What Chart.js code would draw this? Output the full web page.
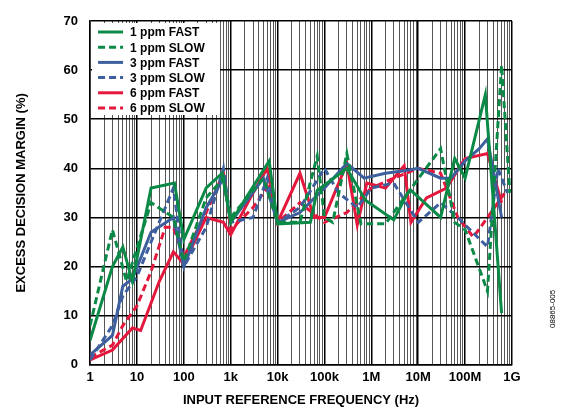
<!DOCTYPE html>
<html>
<head>
<script src="https://cdn.jsdelivr.net/npm/chart.js@4"></script>
<style>
  body { margin: 0; background: #fff; }
  #wrap { width: 571px; height: 410px; }
</style>
</head>
<body>
<div id="wrap"><canvas id="c" width="571" height="410"></canvas></div>
<script>
// Frequencies in Hz, values in % excess decision margin
const fast1Freq = [1, 3, 5, 8, 20, 63, 100, 300, 660, 1e3, 6.6e3, 1e4, 5e4, 7e4, 3e5, 7.5e5, 3e6, 6e6, 7e6, 3e7, 6e7, 1e8, 2.7e8, 6e8];
const fast1Vals = [5, 20, 24, 17, 36, 37, 25.5, 36, 39, 29, 41.5, 28.7, 29, 35.5, 40, 33.5, 29.5, 35, 35.5, 30, 42, 38, 55, 10.5];
const slow1Freq = [1, 3, 6, 20, 60, 100, 300, 700, 1e3, 5e3, 1e4, 3e4, 7e4, 1e5, 1.5e5, 3e5, 6e5, 2e6, 5e6, 3e7, 6e7, 1e8, 3e8, 6e8, 9e8];
const slow1Vals = [8, 27.5, 17, 33, 30, 21, 34, 38, 30, 38, 29, 29, 42.5, 30, 29, 43, 28.7, 28.7, 34, 44, 29, 27.5, 15, 61, 35];
const fast3Freq = [1, 3, 5, 8, 20, 60, 100, 300, 700, 1e3, 5e3, 1e4, 3e4, 1e5, 3e5, 7e5, 2e6, 5e6, 1e7, 3e7, 5e7, 1e8, 2e8, 3e8, 6e8];
const fast3Vals = [2, 6, 16, 17.5, 27, 30, 20, 32, 38, 29, 38, 29, 31, 36, 41, 38, 39, 39.5, 40, 38, 38, 41.5, 44, 46, 30];
const slow3Freq = [1, 3, 5, 10, 20, 60, 100, 300, 700, 1e3, 3e3, 6e3, 1e4, 3e4, 1e5, 2e5, 5e5, 1e6, 3e6, 1e7, 3e7, 7e7, 1e8, 3e8, 5e8, 8e8];
const slow3Vals = [1, 8, 14, 18, 25, 36, 20, 28, 40, 29, 30, 38, 29, 32, 40, 35, 32, 36, 37, 29, 33, 30, 28.5, 24, 40, 35];
const fast6Freq = [1, 3, 8, 12, 30, 60, 100, 300, 700, 1e3, 3e3, 6e3, 1e4, 3e4, 6e4, 1e5, 3e5, 5e5, 8e5, 2e6, 5e6, 7e6, 1.5e7, 4e7, 1e8, 3e8, 6e8];
const fast6Vals = [1, 3, 7.5, 7, 17, 23, 20.5, 30, 29, 26.5, 35, 40, 29, 39, 30, 30, 41, 28.5, 37, 36, 40.5, 29, 34, 36, 42, 43, 33];
const slow6Freq = [1, 3, 5, 10, 20, 40, 60, 100, 300, 700, 1e3, 3e3, 7e3, 1e4, 3e4, 1e5, 3e5, 1e6, 3e6, 1e7, 3e7, 7e7, 1.5e8, 3e8, 7e8];
const slow6Vals = [1.5, 4, 8, 12, 19, 28, 28, 22, 31, 39, 27.5, 32, 37, 29, 33, 29, 31, 36, 38, 40, 39, 30, 26, 30, 35];

const xTickLabels = ['1', '10', '100', '1k', '10k', '100k', '1M', '10M', '100M', '1G'];
const seriesLabels = ['1 ppm FAST', '1 ppm SLOW', '3 ppm FAST', '3 ppm SLOW', '6 ppm FAST', '6 ppm SLOW'];

const GREEN = '#0a8a46', BLUE = '#3e5f9e', RED = '#e4173c';

function pts(f, v) { return f.map((x, i) => ({ x: x, y: v[i] })); }
function ds(i, f, v, color, dashed) {
  return {
    label: seriesLabels[i], data: pts(f, v), borderColor: color, backgroundColor: color,
    borderWidth: 3, borderDash: dashed ? [7, 4] : [], pointRadius: 0, tension: 0, fill: false
  };
}

const legendBox = {
  id: 'legendBox',
  afterDraw(chart) {
    const ctx = chart.ctx, a = chart.chartArea;
    ctx.save();
    ctx.fillStyle = '#fff';
    ctx.fillRect(a.left + 2, a.top + 2, 128, 92);
    ctx.font = 'bold 12px Arial, "Liberation Sans", sans-serif';
    ctx.textBaseline = 'middle';
    chart.data.datasets.forEach((d, i) => {
      const y = a.top + 11 + i * 15.2;
      ctx.strokeStyle = d.borderColor;
      ctx.lineWidth = 3;
      ctx.setLineDash(d.borderDash);
      ctx.beginPath(); ctx.moveTo(a.left + 8, y); ctx.lineTo(a.left + 33, y); ctx.stroke();
      ctx.setLineDash([]);
      ctx.fillStyle = '#000';
      ctx.fillText(d.label, a.left + 40, y + 1);
    });
    ctx.translate(553, 328);
    ctx.rotate(-Math.PI / 2);
    ctx.font = '8px Arial, "Liberation Sans", sans-serif';
    ctx.fillText('08865-005', 0, 0);
    ctx.restore();
  }
};

new Chart(document.getElementById('c'), {
  type: 'line',
  data: {
    datasets: [
      ds(0, fast1Freq, fast1Vals, GREEN, false),
      ds(1, slow1Freq, slow1Vals, GREEN, true),
      ds(2, fast3Freq, fast3Vals, BLUE, false),
      ds(3, slow3Freq, slow3Vals, BLUE, true),
      ds(4, fast6Freq, fast6Vals, RED, false),
      ds(5, slow6Freq, slow6Vals, RED, true)
    ]
  },
  options: {
    responsive: false, animation: false,
    layout: { padding: { left: 14, right: 59, top: 21, bottom: 2 } },
    plugins: { legend: { display: false }, tooltip: { enabled: false } },
    scales: {
      x: {
        type: 'logarithmic', min: 1, max: 1e9,
        border: { color: '#000', width: 1.5 },
        grid: {
          drawTicks: false,
          color: (c) => Math.abs(Math.log10(c.tick.value) % 1) < 1e-9 ? '#000' : '#444',
          lineWidth: (c) => Math.abs(Math.log10(c.tick.value) % 1) < 1e-9 ? 1.5 : 0.9
        },
        afterBuildTicks(axis) {
          const t = [];
          for (let e = 0; e < 9; e++) for (let m = 1; m < 10; m++) t.push({ value: m * Math.pow(10, e) });
          t.push({ value: 1e9 });
          axis.ticks = t;
        },
        ticks: {
          autoSkip: false, maxRotation: 0, color: '#000', padding: 5,
          font: { family: 'Arial, "Liberation Sans", sans-serif', size: 13, weight: 'bold' },
          callback(v) {
            const e = Math.log10(v);
            return Math.abs(e - Math.round(e)) < 1e-9 ? xTickLabels[Math.round(e)] : '';
          }
        },
        title: {
          display: true, text: 'INPUT REFERENCE FREQUENCY (Hz)', color: '#000', padding: { top: 2, bottom: 0 },
          font: { family: 'Arial, "Liberation Sans", sans-serif', size: 13, weight: 'bold' }
        }
      },
      y: {
        min: 0, max: 70,
        border: { color: '#000', width: 1.5 },
        grid: { color: '#000', lineWidth: 1.5, drawTicks: false },
        ticks: {
          stepSize: 10, color: '#000', padding: 12,
          font: { family: 'Arial, "Liberation Sans", sans-serif', size: 13, weight: 'bold' }
        },
        title: {
          display: true, text: 'EXCESS DECISION MARGIN (%)', color: '#000', padding: { top: 0, bottom: 22 },
          font: { family: 'Arial, "Liberation Sans", sans-serif', size: 13, weight: 'bold' }
        }
      }
    }
  },
  plugins: [legendBox]
});
</script>
</body>
</html>
